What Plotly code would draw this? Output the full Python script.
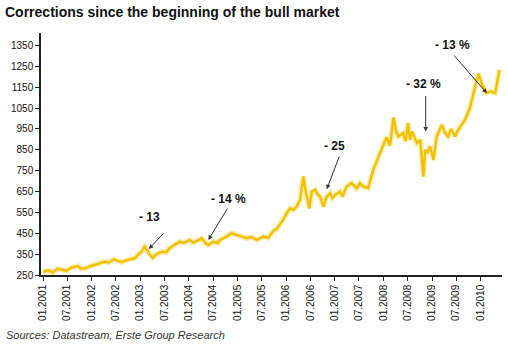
import plotly.graph_objects as go

# ---- data ----
dates = [
    "2001-01-02", "2001-02-10", "2001-03-15", "2001-04-20", "2001-05-20", "2001-06-25",
    "2001-08-01", "2001-09-20", "2001-10-15", "2001-11-15", "2001-12-20",
    "2002-01-25", "2002-03-01", "2002-04-05", "2002-05-10", "2002-06-15", "2002-07-20",
    "2002-08-15", "2002-09-15", "2002-10-15", "2002-11-20", "2002-12-15",
    "2003-01-10", "2003-02-03", "2003-02-20", "2003-03-10", "2003-04-05", "2003-04-25",
    "2003-05-15", "2003-06-20", "2003-07-15", "2003-08-10", "2003-09-10", "2003-10-25",
    "2003-11-25", "2004-01-08", "2004-02-05", "2004-02-28", "2004-04-07", "2004-05-10",
    "2004-05-27", "2004-07-02", "2004-08-05", "2004-08-22", "2004-10-11", "2004-11-17",
    "2004-12-28", "2005-02-01", "2005-03-12", "2005-04-15", "2005-05-26", "2005-06-20",
    "2005-07-15", "2005-08-20", "2005-09-27", "2005-10-20", "2005-11-03", "2005-12-10",
    "2006-01-05", "2006-01-30", "2006-02-24", "2006-03-21", "2006-04-16", "2006-04-27",
    "2006-05-10", "2006-05-30", "2006-06-24", "2006-07-12", "2006-08-07", "2006-08-30",
    "2006-09-13", "2006-10-08", "2006-11-02", "2006-11-27", "2006-12-15", "2007-01-03",
    "2007-02-09", "2007-02-28", "2007-03-31", "2007-05-07", "2007-06-14", "2007-07-10",
    "2007-08-03", "2007-09-09", "2007-10-16", "2007-11-10", "2007-12-06", "2008-01-25",
    "2008-02-20", "2008-03-17", "2008-04-05", "2008-04-22", "2008-05-29", "2008-06-15",
    "2008-07-05", "2008-07-20", "2008-08-04", "2008-09-09", "2008-10-04", "2008-10-16",
    "2008-10-28", "2008-11-10", "2008-11-24", "2008-12-17", "2009-01-11", "2009-02-05",
    "2009-03-15", "2009-04-08", "2009-05-01", "2009-05-25", "2009-06-23", "2009-07-10",
    "2009-07-31", "2009-09-05", "2009-10-12", "2009-11-07", "2009-12-15", "2010-01-12",
    "2010-02-13", "2010-03-14", "2010-04-20", "2010-05-22",
]
values = [
    266, 272, 262, 280, 276, 270,
    285, 293, 280, 282, 292,
    298, 305, 314, 310, 325, 318,
    312, 320, 325, 330, 346,
    360, 386, 372, 350, 332, 345,
    354, 362, 358, 378, 390, 410,
    404, 418, 405, 412, 426, 400,
    394, 410, 402, 418, 434, 450,
    442, 436, 426, 432, 418, 426,
    434, 428, 462, 470, 482, 514,
    546, 570, 562, 578, 610, 674,
    722, 642, 570, 650, 658, 634,
    626, 578, 626, 642, 618, 634,
    650, 626, 674, 690, 666, 690,
    674, 666, 754, 790, 834, 910,
    870, 1005, 940, 914, 930, 890,
    978, 898, 938, 882, 898, 786,
    722, 850, 834, 866, 802, 914,
    970, 930, 914, 950, 914, 940,
    962, 994, 1050, 1122, 1215, 1162,
    1122, 1130, 1122, 1234,
]

y_ticks = [250, 350, 450, 550, 650, 750, 850, 950, 1050, 1150, 1250, 1350]
x_ticks = ["2001-01-01", "2001-07-01", "2002-01-01", "2002-07-01", "2003-01-01",
           "2003-07-01", "2004-01-01", "2004-07-01", "2005-01-01", "2005-07-01",
           "2006-01-01", "2006-07-01", "2007-01-01", "2007-07-01", "2008-01-01",
           "2008-07-01", "2009-01-01", "2009-07-01", "2010-01-01"]

# annotations: label, arrow tip (date, value)
ann_labels = ["- 13", "- 14 %", "- 25", "- 32 %", "- 13 %"]
ann_dates = ["2003-03-07", "2004-05-27", "2006-11-02", "2008-11-14", "2010-02-16"]
ann_values = [375, 418, 661, 938, 1122]
# styling offsets (pixels): arrow tail offset, text offset
arrow_off = [(16, -17), (20, -33), (13, -34), (0, -37), (-34, -39)]
text_off = [(1, 32), (20, 41), (8, 43), (-2, 47), (-34, 48)]

LINE = "#F2C200"
FONT = "Arial, Liberation Sans, sans-serif"

fig = go.Figure()
fig.add_trace(go.Scatter(x=dates, y=values, mode="lines",
                         line=dict(color="rgba(245,205,50,0.35)", width=5.5),
                         hoverinfo="skip", showlegend=False))
fig.add_trace(go.Scatter(x=dates, y=values, mode="lines",
                         line=dict(color=LINE, width=2.5),
                         showlegend=False))

annotations = []
for lab, d, v, (ax, ay), (tx, ty) in zip(ann_labels, ann_dates, ann_values, arrow_off, text_off):
    annotations.append(dict(x=d, y=v, xref="x", yref="y", text="", showarrow=True,
                            ax=ax, ay=ay, axref="pixel", ayref="pixel",
                            arrowhead=2, arrowsize=0.9, arrowwidth=1, arrowcolor="#333333"))
    annotations.append(dict(x=d, y=v, xref="x", yref="y", text="<b>%s</b>" % lab,
                            showarrow=False, xshift=tx, yshift=ty,
                            font=dict(family=FONT, size=12, color="#111111")))

annotations.append(dict(x=(4 - 41) / 461, y=(275 - 335) / 242, xref="paper", yref="paper",
                        xanchor="left", yanchor="middle", showarrow=False,
                        text="<i>Sources: Datastream, Erste Group Research</i>",
                        font=dict(family=FONT, size=11, color="#333333")))

fig.update_layout(
    width=508, height=345,
    margin=dict(l=41, r=6, t=33, b=70),
    paper_bgcolor="white", plot_bgcolor="white",
    title=dict(text="<b>Corrections since the beginning of the bull market</b>",
               x=5 / 508, xref="container", xanchor="left",
               y=1 - 12 / 345, yref="container", yanchor="middle",
               font=dict(family=FONT, size=14, color="#111111")),
    annotations=annotations,
    showlegend=False,
)
fig.update_xaxes(type="date", range=["2000-12-17", "2010-06-10"],
                 tickvals=x_ticks, tickformat="%m.%Y", tickangle=-90,
                 ticks="outside", ticklen=4, tickcolor="#222", tickwidth=1,
                 showline=True, linecolor="#222", linewidth=1.5,
                 showgrid=False, zeroline=False,
                 tickfont=dict(family=FONT, size=10, color="#111"))
fig.update_yaxes(range=[250, 1410], tickvals=y_ticks,
                 ticks="outside", ticklen=4, tickcolor="#222", tickwidth=1,
                 showline=True, linecolor="#222", linewidth=1.5,
                 showgrid=False, zeroline=False,
                 tickfont=dict(family=FONT, size=10, color="#111"))

fig.write_html("out.html")
